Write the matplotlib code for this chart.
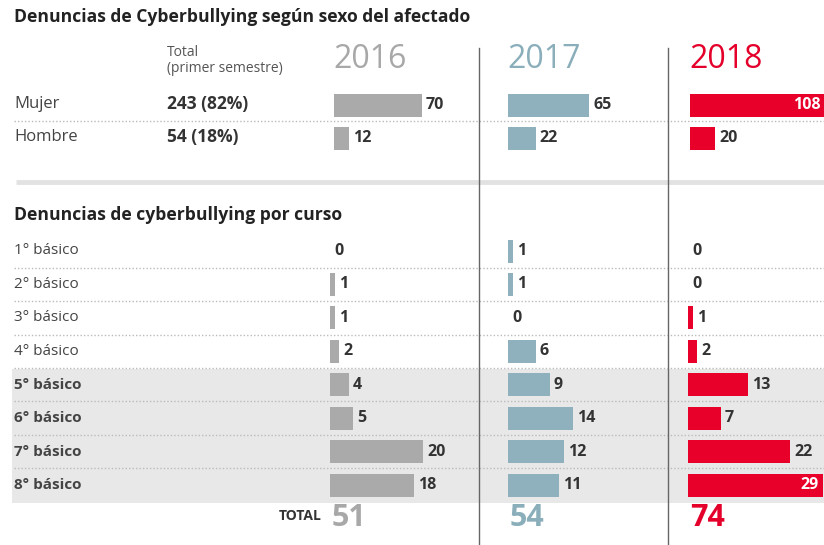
import matplotlib
matplotlib.use("Agg")
import matplotlib.pyplot as plt

# ---------------- data ----------------
years = ["2016", "2017", "2018"]
sex_labels = ["Mujer", "Hombre"]
sex_totals = ["243 (82%)", "54 (18%)"]
sex_values = {"2016": [70, 12], "2017": [65, 22], "2018": [108, 20]}

course_labels = ["1° básico", "2° básico", "3° básico", "4° básico",
                 "5° básico", "6° básico", "7° básico", "8° básico"]
course_values = {"2016": [0, 1, 1, 2, 4, 5, 20, 18],
                 "2017": [1, 1, 0, 6, 9, 14, 12, 11],
                 "2018": [0, 0, 1, 2, 13, 7, 22, 29]}
course_totals = {"2016": 51, "2017": 54, "2018": 74}

# ---------------- style ----------------
W, H = 824, 545
FONT = "Open Sans"
plt.rcParams["font.family"] = [FONT, "DejaVu Sans"]
bar_col = {"2016": "#aaaaaa", "2017": "#8fb1bd", "2018": "#e8002b"}
year_col = {"2016": "#a8a8a8", "2017": "#8aaeba", "2018": "#e4002b"}
dark = "#333333"

top_x0 = {"2016": 334, "2017": 508, "2018": 690}
bot_x0 = {"2016": 330, "2017": 508, "2018": 688}
top_scale = 1.25     # px per unit
bot_scale = 4.65
top_rows = [105, 138]
bot_first, bot_step = 251, 33.43
bot_rows = [bot_first + i * bot_step for i in range(len(course_labels))]
bar_h = 23
val_fs = 11.5

fig = plt.figure(figsize=(W / 100, H / 100), dpi=100)
bg = fig.add_axes([0, 0, 1, 1])
bg.set_xlim(0, W)
bg.set_ylim(H, 0)
bg.axis("off")

# titles
bg.text(14, 17, "Denuncias de Cyberbullying según sexo del afectado",
        fontsize=12.6, fontweight="bold", color="#222222", va="center")
bg.text(14, 215, "Denuncias de cyberbullying por curso",
        fontsize=12.6, fontweight="bold", color="#222222", va="center")
bg.text(167, 53, "Total", fontsize=10, color="#555555", va="center")
bg.text(167, 68, "(primer semestre)", fontsize=10, color="#555555", va="center")

for y in years:
    bg.text(top_x0[y] - 1, 59, y, fontsize=23, color=year_col[y], va="center")

# top rows labels
for i, (lab, tot) in enumerate(zip(sex_labels, sex_totals)):
    bg.text(14, top_rows[i] - 1, lab, fontsize=12, color="#444444", va="center")
    bg.text(167, top_rows[i] - 1, tot, fontsize=12.5, fontweight="bold",
            color=dark, va="center")
bg.plot([14, W], [121, 121], ls=(0, (1, 1.5)), color="#bbbbbb", lw=1)

# thick separator
bg.plot([16, W], [182, 182], color="#e2e2e2", lw=3.5, solid_capstyle="butt")

# shading rows 5-8
bg.fill_between([12, W], 369, 503, color="#e8e8e8", lw=0)
for i in range(len(course_labels) - 1):
    yy = (bot_rows[i] + bot_rows[i + 1]) / 2
    bg.plot([14, W], [yy, yy], ls=(0, (1, 1.5)), color="#bbbbbb", lw=1)
for i, lab in enumerate(course_labels):
    bg.text(14, bot_rows[i], lab, fontsize=11, color="#444444", va="center",
            fontweight="bold" if i >= 4 else "normal")

# vertical dividers
for x in (479, 668):
    bg.plot([x, x], [48, H], color="#666666", lw=1)

# totals
bg.text(322, 516, "TOTAL", fontsize=10, fontweight="bold", color=dark,
        ha="right", va="center")
for y in years:
    bg.text(bot_x0[y] + 2, 518, str(course_totals[y]), fontsize=22,
            fontweight="bold", color=year_col[y], va="center")


def panel(x0, scale):
    ax = fig.add_axes([x0 / W, 0, (W - x0) / W, 1])
    ax.set_xlim(0, (W - x0) / scale)
    ax.set_ylim(H, 0)
    ax.patch.set_alpha(0)
    ax.axis("off")
    return ax


def labels(ax, rows, vals, xmax):
    for yc, v in zip(rows, vals):
        if v > xmax * 0.8:
            ax.annotate(str(v), xy=(v, yc), xytext=(-4, 0),
                        textcoords="offset pixels", ha="right", va="center",
                        fontsize=val_fs, fontweight="bold", color="white",
                        annotation_clip=False)
        else:
            ax.annotate(str(v), xy=(v, yc), xytext=(4, 0),
                        textcoords="offset pixels", ha="left", va="center",
                        fontsize=val_fs, fontweight="bold", color=dark)


for y in years:
    ax = panel(top_x0[y], top_scale)
    ax.barh(top_rows, sex_values[y], height=bar_h, left=0, color=bar_col[y])
    labels(ax, top_rows, sex_values[y], (W - top_x0[y]) / top_scale)

    ax = panel(bot_x0[y], bot_scale)
    ax.barh(bot_rows, course_values[y], height=bar_h, left=0, color=bar_col[y])
    labels(ax, bot_rows, course_values[y], (W - bot_x0[y]) / bot_scale)

fig.savefig("out.png", dpi=100)
